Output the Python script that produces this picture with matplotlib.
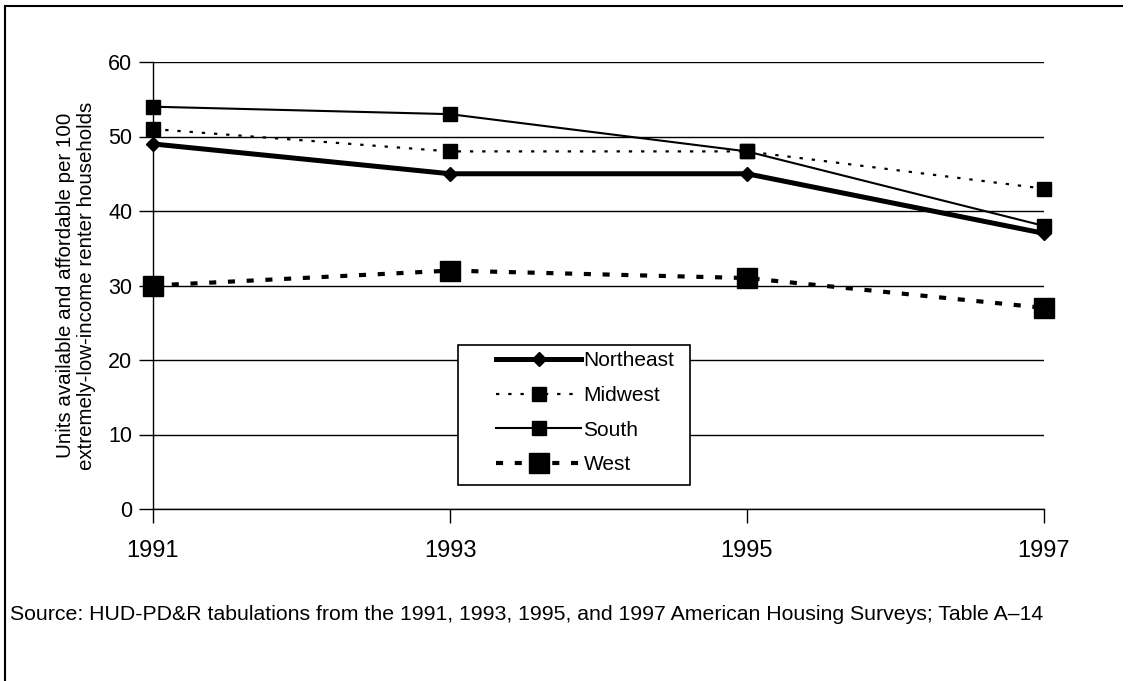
import matplotlib
matplotlib.use("Agg")
import matplotlib.pyplot as plt
from matplotlib.lines import Line2D
from matplotlib.patches import Rectangle

years = [1991, 1993, 1995, 1997]
northeast = [49, 45, 45, 37]
midwest = [51, 48, 48, 43]
south = [54, 53, 48, 38]
west = [30, 32, 31, 27]
yticks = [0, 10, 20, 30, 40, 50, 60]

plt.rcParams['font.family'] = ['Liberation Sans', 'DejaVu Sans']

W, H = 1138, 681
fig = plt.figure(figsize=(W/100, H/100), dpi=100)
ax = fig.add_axes([153/W, 1-509/H, (1044-153)/W, (509-62)/H])

ax.plot(years, northeast, color='black', lw=3.6, marker='D', ms=7,
        label='Northeast', clip_on=False, zorder=5)
ax.plot(years, midwest, color='black', lw=1.6, ls=(0, (1.5, 4)), marker='s', ms=9.5,
        label='Midwest', clip_on=False, zorder=5)
ax.plot(years, south, color='black', lw=1.5, marker='s', ms=10,
        label='South', clip_on=False, zorder=5)
ax.plot(years, west, color='black', lw=3.0, ls=(0, (1.7, 2.8)), marker='s', ms=15,
        label='West', clip_on=False, zorder=5)

ax.set_xlim(1991, 1997)
ax.set_ylim(0, 60)
ax.set_xticks(years)
ax.set_yticks(yticks)
ax.grid(axis='y', color='black', lw=1.0)
ax.set_axisbelow(True)
for s in ['top', 'right']:
    ax.spines[s].set_visible(False)
ax.spines['left'].set_linewidth(1.0)
ax.spines['bottom'].set_linewidth(1.0)
ax.tick_params(axis='y', length=10, width=1.0, pad=5, labelsize=15.5)
ax.tick_params(axis='x', length=10, width=1.0, pad=12, labelsize=17)

ax.set_ylabel('Units available and affordable per 100\nextremely-low-income renter households',
              fontsize=14.8, labelpad=9, linespacing=1.1)

# legend frame drawn separately (wider horizontal padding than matplotlib allows)
frame = Rectangle((458/W, 1-485/H), (690-458)/W, (485-345)/H,
                  transform=fig.transFigure, facecolor='white',
                  edgecolor='black', lw=1.2, zorder=6, clip_on=False)
ax.add_patch(frame)
leg = ax.legend(loc='upper left', bbox_to_anchor=(496/W, 1-351/H),
                bbox_transform=fig.transFigure, borderaxespad=0, borderpad=0,
                frameon=False, fontsize=15, handlelength=4.1, handletextpad=0.1,
                labelspacing=0.76, markerscale=1.0)
leg.set_zorder(7)

fig.text(10/W, 1-614/H,
         'Source: HUD-PD&R tabulations from the 1991, 1993, 1995, and 1997 American Housing Surveys; Table A\u201314',
         fontsize=15.3, va='center', ha='left')

# outer frame lines (top and left)
fig.add_artist(Line2D([5/W, 1122/W], [1-6/H, 1-6/H], color='black', lw=1.5,
                      transform=fig.transFigure))
fig.add_artist(Line2D([5/W, 5/W], [1-6/H, 0], color='black', lw=1.5,
                      transform=fig.transFigure))

fig.savefig('out.png', dpi=100)
